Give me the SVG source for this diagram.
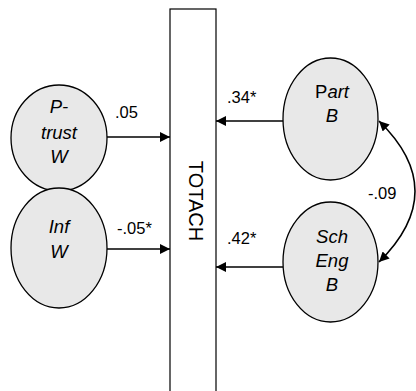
<svg xmlns="http://www.w3.org/2000/svg" width="416" height="391" viewBox="0 0 416 391">
  <style>
    .node { fill: #e8e8e8; stroke: #000; stroke-width: 1.3; }
    .lbl { font-family: "Liberation Sans", Arial, sans-serif; font-size: 18.5px; font-style: italic; fill: #000; text-anchor: middle; }
    .up { font-style: normal; }
    .title { font-family: "Liberation Sans", Arial, sans-serif; font-size: 20px; fill: #000; text-anchor: middle; }
    .coef { font-family: "Liberation Sans", Arial, sans-serif; font-size: 16.5px; fill: #000; }
    .edge { fill: none; stroke: #000; stroke-width: 1.6; }
  </style>
  <defs>
    <marker id="arrow" viewBox="0 0 10 10" refX="10" refY="5" markerWidth="10" markerHeight="10" markerUnits="userSpaceOnUse" orient="auto-start-reverse">
      <path d="M0,0 L10,5 L0,10 z" fill="#000"/>
    </marker>
  </defs>

  <!-- outcome box -->
  <g id="totach">
    <rect x="170" y="9" width="46" height="392" fill="#fff" stroke="#000" stroke-width="1.2"/>
    <text class="title" transform="translate(189,201) rotate(90)">TOTACH</text>
  </g>

  <g id="ptrust">
    <ellipse class="node" cx="59" cy="138" rx="48" ry="53"/>
    <text class="lbl" x="59" y="113">P-</text>
    <text class="lbl" x="59" y="139">trust</text>
    <text class="lbl" x="59" y="163">W</text>
  </g>

  <g id="inf">
    <ellipse class="node" cx="59" cy="248" rx="48" ry="60"/>
    <text class="lbl" x="59" y="233">Inf</text>
    <text class="lbl" x="59" y="258">W</text>
  </g>

  <g id="part">
    <ellipse class="node" cx="330.5" cy="119" rx="47.5" ry="61"/>
    <text class="lbl" x="332" y="98"><tspan class="up">P</tspan>art</text>
    <text class="lbl" x="332" y="122">B</text>
  </g>

  <g id="scheng">
    <ellipse class="node" cx="330.5" cy="262" rx="47.5" ry="60"/>
    <text class="lbl" x="332" y="243">Sch</text>
    <text class="lbl" x="332" y="267">Eng</text>
    <text class="lbl" x="332" y="291">B</text>
  </g>

  <g id="connectors">
    <line class="edge" x1="107" y1="137" x2="170" y2="137" marker-end="url(#arrow)"/>
    <line class="edge" x1="107" y1="249" x2="170" y2="249" marker-end="url(#arrow)"/>
    <line class="edge" x1="283" y1="121" x2="216" y2="121" marker-end="url(#arrow)"/>
    <line class="edge" x1="283" y1="267" x2="216" y2="267" marker-end="url(#arrow)"/>
    <path class="edge" d="M379,121 Q451,191 379,262" marker-start="url(#arrow)" marker-end="url(#arrow)"/>
    <text class="coef" x="115" y="118">.05</text>
    <text class="coef" x="117" y="234">-.05*</text>
    <text class="coef" x="227" y="103">.34*</text>
    <text class="coef" x="227" y="244">.42*</text>
    <text class="coef" x="368" y="199">-.09</text>
  </g>
</svg>
